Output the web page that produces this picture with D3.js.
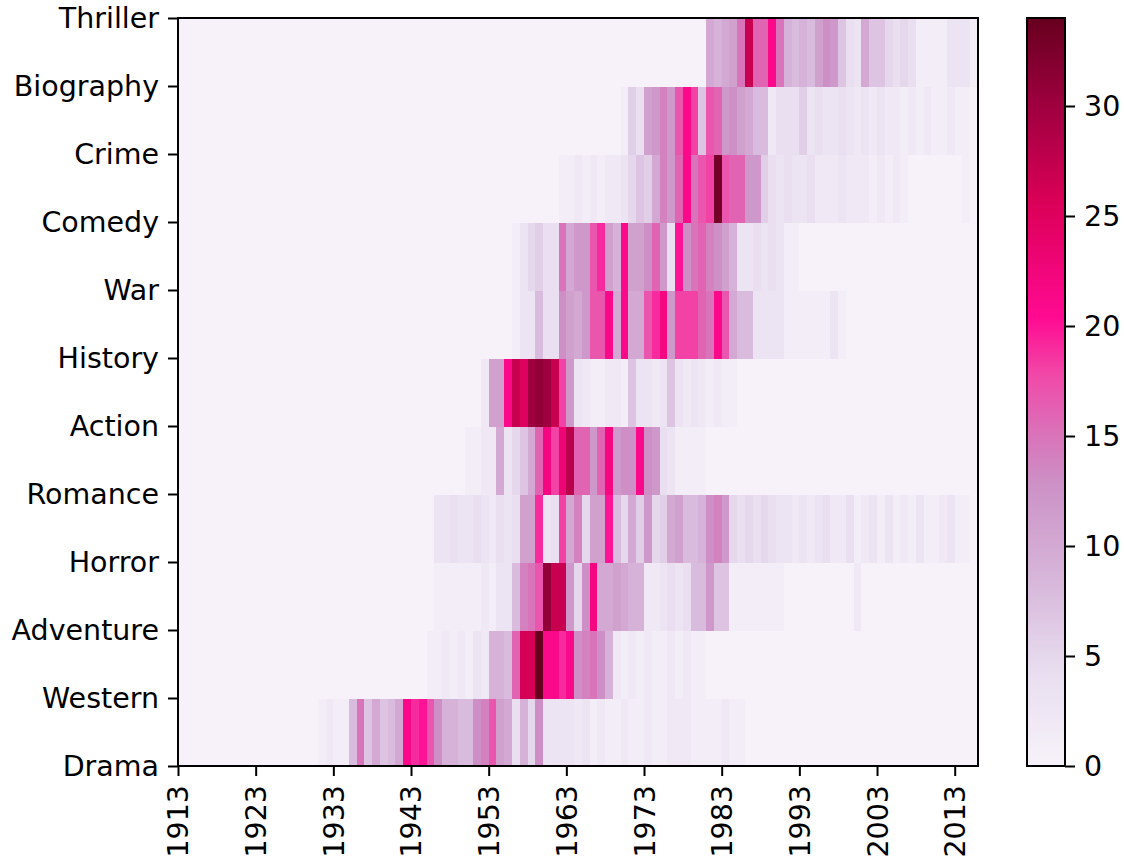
<!DOCTYPE html>
<html>
<head>
<meta charset="utf-8">
<script src="https://cdn.jsdelivr.net/npm/d3@7"></script>
<style>
  body { margin: 0; background: #fff; }
  text { font-family: "DejaVu Sans", sans-serif; }
</style>
</head>
<body>
<div id="chart"></div>
<script>
// tick labels on the y axis (edges of the mesh, bottom to top)
const genres = ["Drama", "Western", "Adventure", "Horror", "Romance", "Action",
                "History", "War", "Comedy", "Crime", "Biography", "Thriller"];

// first year of each column, 1913 .. 2015
const years = d3.range(1913, 2016);
const yearTicks = [1913, 1923, 1933, 1943, 1953, 1963, 1973, 1983, 1993, 2003, 2013];
const colorTicks = [0, 5, 10, 15, 20, 25, 30];

// counts per year, each row starting at the given year (zero elsewhere)
const dramaStart = 1931;
const drama = [1, 2, 1, 1, 8, 15, 7, 10, 7, 8, 10, 21, 19, 20, 17, 13, 9, 9, 8, 8,
  13, 14, 17, 11, 10, 4, 9, 5, 13, 3, 3, 3, 3, 2, 3, 1, 2, 1, 1, 2,
  1, 1, 2, 1, 1, 2, 2, 2, 1, 1, 1, 1, 2, 1, 1];

const westernStart = 1945;
const western = [1, 1, 2, 1, 2, 1, 3, 2, 9, 9, 8, 16, 26, 26, 34, 21, 21, 19, 21, 13,
  14, 15, 13, 9, 2, 1, 2, 1, 2, 1, 1, 2, 1, 2, 1, 1];

const adventureStart = 1946;
const adventure = [1, 1, 1, 1, 1, 1, 2, 1, 3, 3, 8, 14, 15, 17, 31, 27, 27, 12, 5, 13,
  22, 10, 10, 11, 10, 9, 9, 2, 2, 3, 4, 3, 4, 8, 8, 12, 7, 7, 1, 1,
  1, 1, 1, 1, 1, 0, 0, 0, 0, 0, 0, 0, 0, 0, 2];

const horrorStart = 1946;
const horror = [3, 3, 4, 3, 3, 4, 3, 2, 4, 3, 4, 11, 11, 19, 3, 4, 18, 10, 14, 5,
  11, 11, 20, 8, 5, 10, 6, 12, 5, 6, 10, 11, 8, 8, 9, 13, 14, 12, 5, 4,
  5, 4, 5, 4, 3, 3, 2, 3, 2, 3, 4, 2, 2, 4, 1, 2, 3, 1, 3, 1,
  2, 1, 3, 1, 1, 2, 3, 1, 1];

const romanceStart = 1950;
const romance = [1, 1, 2, 2, 10, 3, 5, 7, 10, 16, 22, 18, 23, 28, 16, 16, 12, 16, 22, 12,
  13, 13, 21, 13, 12, 4, 3, 1, 1, 1, 1];

const actionStart = 1952;
const action = [2, 11, 11, 21, 27, 25, 30, 31, 30, 27, 18, 12, 3, 2, 1, 1, 2, 2, 1, 7,
  3, 3, 2, 3, 7, 3, 2, 3, 2, 1, 2, 1, 1];

const historyStart = 1956;
const history = [1, 3, 3, 8, 4, 4, 13, 11, 10, 12, 17, 17, 21, 10, 21, 10, 10, 17, 19, 22,
  12, 18, 18, 18, 16, 15, 21, 17, 10, 8, 8, 3, 3, 3, 3, 1, 1, 1, 1, 1,
  1, 3, 1];

const warStart = 1956;
const war = [1, 3, 5, 6, 4, 4, 15, 10, 12, 12, 17, 19, 11, 9, 21, 11, 11, 13, 16, 12,
  4, 20, 13, 15, 16, 14, 13, 11, 9, 3, 3, 4, 3, 4, 3, 1, 1];

const comedyStart = 1962;
const comedy = [1, 1, 2, 1, 2, 1, 2, 2, 3, 5, 7, 6, 10, 14, 12, 16, 21, 15, 17, 18,
  33, 17, 16, 16, 12, 12, 6, 4, 3, 4, 3, 3, 4, 2, 2, 2, 3, 2, 2, 2,
  1, 2, 1, 2, 1, 0, 0, 0, 0, 0, 0, 0, 1, 0];

const crimeStart = 1970;
const crime = [1, 6, 4, 11, 12, 14, 12, 17, 21, 18, 7, 17, 16, 12, 13, 11, 10, 8, 8, 2,
  4, 4, 4, 6, 3, 4, 3, 3, 4, 3, 2, 3, 2, 3, 2, 2, 1, 2, 1, 2,
  1, 1, 2, 1, 1];

const biographyStart = 1981;
const biography = [10, 9, 10, 11, 15, 27, 16, 16, 21, 15, 9, 8, 9, 8, 11, 13, 12, 7, 4, 3,
  10, 7, 7, 5, 4, 5, 4, 1, 1, 1, 1, 3, 3, 3, 1];

const rows = [
  [dramaStart, drama], [westernStart, western], [adventureStart, adventure],
  [horrorStart, horror], [romanceStart, romance], [actionStart, action],
  [historyStart, history], [warStart, war], [comedyStart, comedy],
  [crimeStart, crime], [biographyStart, biography]
];

const cells = [];
rows.forEach(function(r, i) {
  years.forEach(function(yr) {
    const k = yr - r[0];
    const v = (k >= 0 && k < r[1].length) ? r[1][k] : 0;
    cells.push({row: i, year: yr, value: v});
  });
});

const W = 1124, H = 860;
const plot = {left: 178, right: 978, top: 18, bottom: 766};
const cbar = {left: 1027, right: 1065};

const svg = d3.select("#chart").append("svg")
  .attr("width", W).attr("height", H);

const x = d3.scaleLinear().domain([1913, 2016]).range([plot.left, plot.right]);
const y = d3.scaleLinear().domain([0, genres.length - 1]).range([plot.bottom, plot.top]);

const vmax = d3.max(cells, d => d.value);
const color = d3.scaleLinear()
  .domain([0, 0.125, 0.25, 0.375, 0.45, 0.52, 0.6, 0.75, 0.88, 1].map(f => f * vmax))
  .range(["#f7f2f9", "#e8def0", "#d7b6da", "#cc92c6", "#db6fb8", "#f04aa8",
          "#ff0a92", "#dc0058", "#a0003f", "#66001f"])
  .clamp(true);

svg.append("g")
  .attr("shape-rendering", "crispEdges")
  .selectAll("rect")
  .data(cells)
  .enter().append("rect")
  .attr("x", d => x(d.year))
  .attr("width", d => x(d.year + 1) - x(d.year) + 0.5)
  .attr("y", d => y(d.row + 1))
  .attr("height", d => y(d.row) - y(d.row + 1) + 0.5)
  .attr("fill", d => color(d.value));

// frame
svg.append("rect")
  .attr("x", plot.left).attr("y", plot.top)
  .attr("width", plot.right - plot.left).attr("height", plot.bottom - plot.top)
  .attr("fill", "none").attr("stroke", "#000").attr("stroke-width", 2);

const fs = "28.5px";

const xAxis = svg.append("g")
  .attr("transform", "translate(0," + plot.bottom + ")")
  .call(d3.axisBottom(x).tickValues(yearTicks).tickFormat(d3.format("d"))
    .tickSize(10).tickSizeOuter(0));
xAxis.select(".domain").remove();
xAxis.selectAll("line").attr("stroke-width", 2);
xAxis.selectAll("text")
  .attr("transform", "rotate(-90)")
  .attr("x", -19).attr("y", 0).attr("dy", "0.35em")
  .style("text-anchor", "end")
  .style("font-size", fs).attr("fill", "#000");

const yAxis = svg.append("g")
  .attr("transform", "translate(" + plot.left + ",0)")
  .call(d3.axisLeft(y).tickValues(d3.range(genres.length)).tickFormat(i => genres[i])
    .tickSize(10).tickPadding(9).tickSizeOuter(0));
yAxis.select(".domain").remove();
yAxis.selectAll("line").attr("stroke-width", 2);
yAxis.selectAll("text").style("font-size", fs).attr("fill", "#000");

// colorbar
const cy = d3.scaleLinear().domain([0, vmax]).range([plot.bottom, plot.top]);
const grad = svg.append("defs").append("linearGradient")
  .attr("id", "cb").attr("x1", 0).attr("y1", 1).attr("x2", 0).attr("y2", 0);
grad.selectAll("stop")
  .data(d3.range(0, 1.0001, 0.02))
  .enter().append("stop")
  .attr("offset", d => d)
  .attr("stop-color", d => color(d * vmax));

svg.append("rect")
  .attr("x", cbar.left).attr("y", plot.top)
  .attr("width", cbar.right - cbar.left).attr("height", plot.bottom - plot.top)
  .attr("fill", "url(#cb)").attr("stroke", "#000").attr("stroke-width", 2);

const cAxis = svg.append("g")
  .attr("transform", "translate(" + cbar.right + ",0)")
  .call(d3.axisRight(cy).tickValues(colorTicks).tickSize(10).tickPadding(9).tickSizeOuter(0));
cAxis.select(".domain").remove();
cAxis.selectAll("line").attr("stroke-width", 2);
cAxis.selectAll("text").style("font-size", fs).attr("fill", "#000");
</script>
</body>
</html>
